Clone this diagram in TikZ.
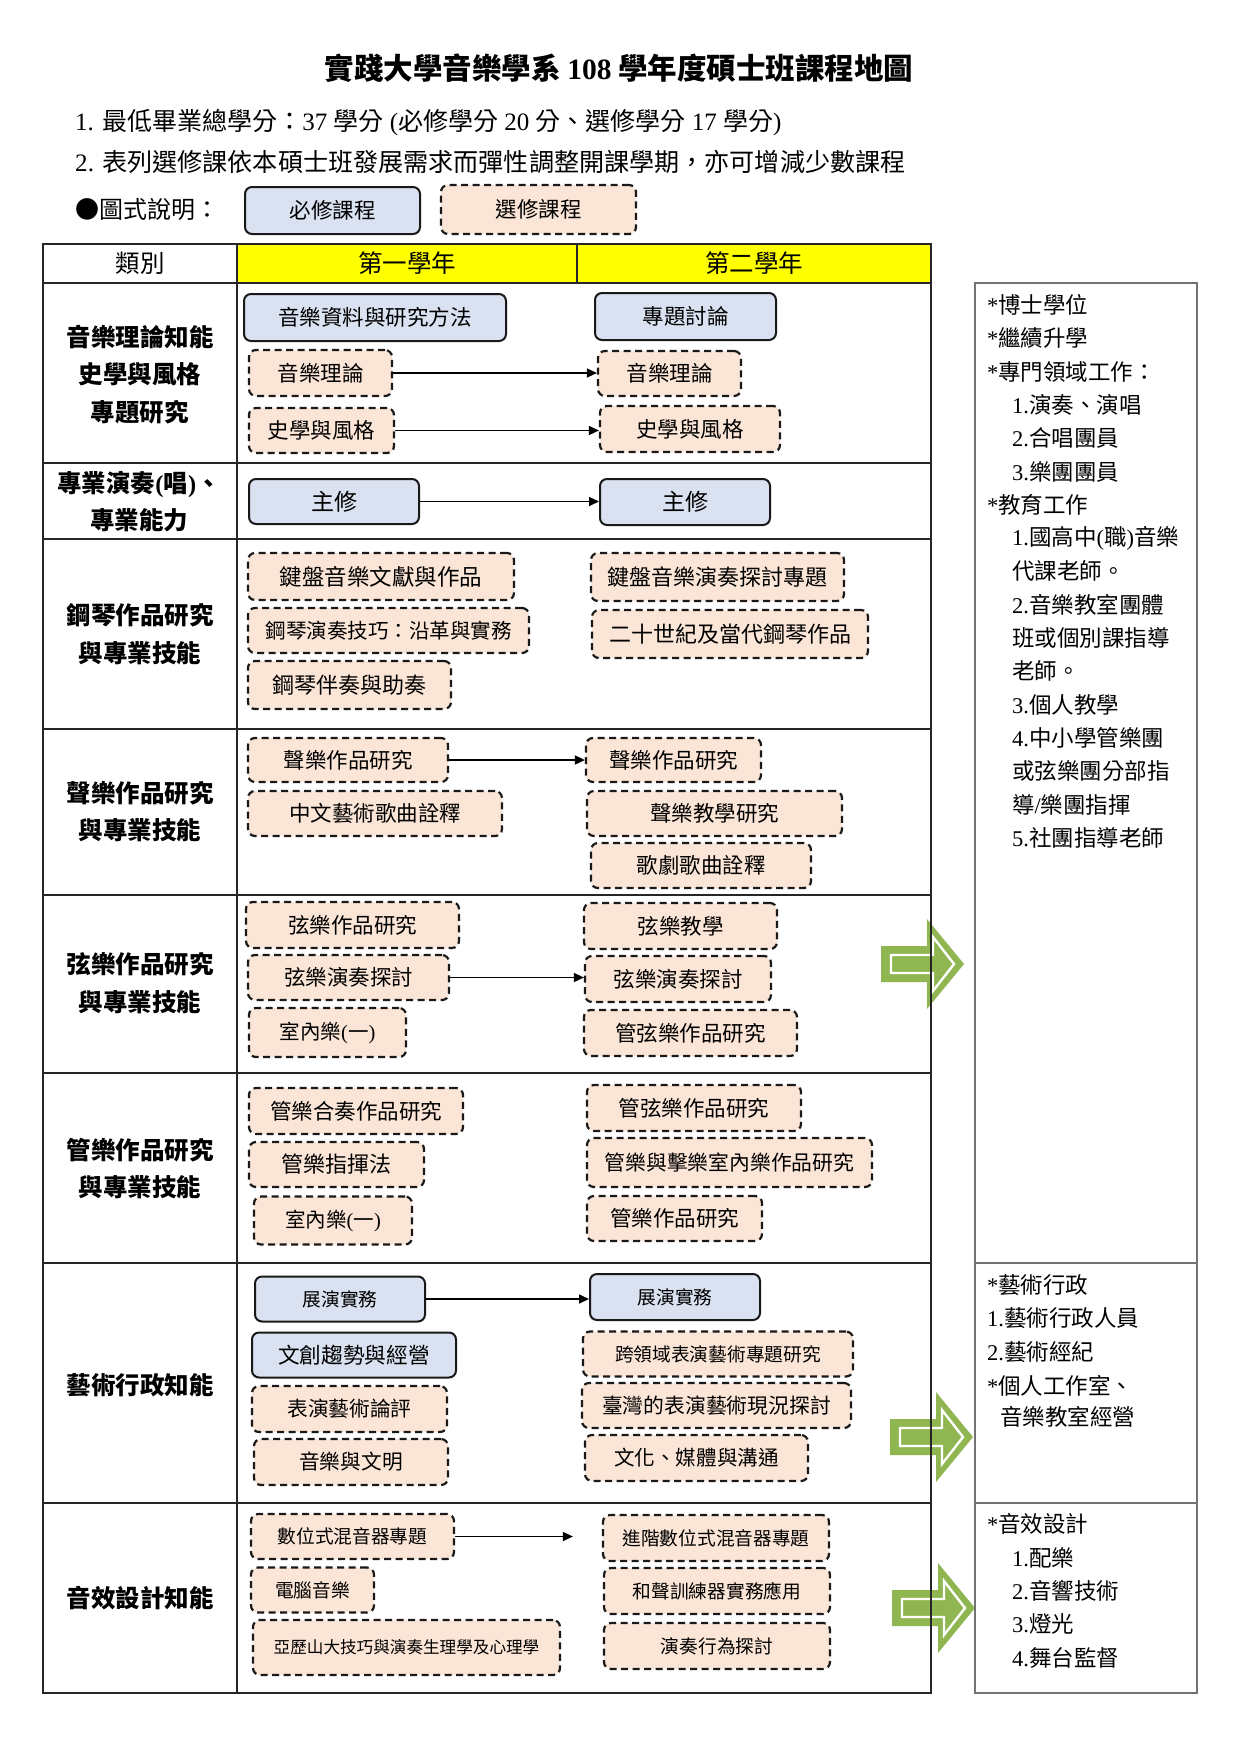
\documentclass[tikz,border=0pt]{standalone}
\usepackage{fontspec}
\setmainfont{Noto Sans CJK TC}
\newfontfamily\latfont{Liberation Serif}
\newcommand\latx[1]{{\latfont #1}}
\newcommand\fsz[1]{\fontsize{#1}{#1}\selectfont}
\usetikzlibrary{arrows.meta}
\definecolor{reqfill}{HTML}{DAE1F0}
\definecolor{optfill}{HTML}{FBE5D6}
\definecolor{hdr}{HTML}{FFFF00}
\definecolor{grn}{RGB}{143,182,80}
\newcommand\grnarrow[2]{%
  \fill[grn] (#1,#2-18) -- (#1+46,#2-18) -- (#1+46,#2-45) -- (#1+83,#2) -- (#1+46,#2+45) -- (#1+46,#2+18) -- (#1,#2+18) -- cycle;
  \draw[white, line width=2.4pt] (#1+10,#2-9) -- (#1+52,#2-9) -- (#1+52,#2-27) -- (#1+73,#2) -- (#1+52,#2+27) -- (#1+52,#2+9) -- (#1+10,#2+9) -- cycle;}
\begin{document}
\begin{tikzpicture}[x=1pt,y=-1pt,
  req/.style={draw=black!90, line width=2pt, rounded corners=7pt, fill=reqfill, inner sep=0pt, font=\fsz{21.5}},
  opt/.style={draw=black!90, line width=2.2pt, dash pattern=on 7pt off 4.5pt, rounded corners=7pt, fill=optfill, inner sep=0pt, font=\fsz{21.5}},
  cat/.style={align=center, inner sep=0pt, font=\fontsize{24.5}{37.5}\selectfont\bfseries},
  hd/.style={inner sep=0pt, font=\fsz{24.5}},
  rt/.style={anchor=west, inner sep=0pt, font=\fsz{22.5}},
  conn/.style={-{Triangle[length=10pt,width=9pt]}, line width=1.6pt, black},
  tline/.style={line width=1.3pt, black!85},
  rline/.style={line width=1.5pt, black!55}]
\useasboundingbox[fill=white] (0,0) rectangle (1240,1754);

% title and notes
\node[inner sep=0pt, font=\fsz{29.5}\bfseries] (title) at (619,68) {實踐大學音樂學系 \latx{108} 學年度碩士班課程地圖};
\node[anchor=west, inner sep=0pt, font=\fsz{25}] (note1) at (75,123) {\latx{1. }最低畢業總學分：\latx{37 }學分\latx{ (}必修學分\latx{ 20 }分、選修學分\latx{ 17 }學分\latx{)}};
\node[anchor=west, inner sep=0pt, font=\fsz{25.1}] (note2) at (75,162) {\latx{2. }表列選修課依本碩士班發展需求而彈性調整開課學期，亦可增減少數課程};
\node[anchor=west, inner sep=0pt, font=\fsz{24}] (legend) at (75,210) {●圖式說明：};
\node[req, minimum width=175pt, minimum height=47pt] (LG1) at (332.5,210.5) {必修課程};
\node[opt, minimum width=195pt, minimum height=49pt] (LG2) at (538.5,209.5) {選修課程};

% green arrows (under the table lines)
\grnarrow{881}{964}
\grnarrow{890}{1437}
\grnarrow{892}{1608}

% table
\fill[hdr] (237,244) rectangle (931,283);
\draw[tline] (43,244) rectangle (931,1693);
\foreach \yy in {283,463,539,729,895,1073,1263,1503} \draw[tline] (43,\yy) -- (931,\yy);
\draw[tline] (237,244) -- (237,1693);
\draw[tline] (577,244) -- (577,283);
\draw[rline] (975,283) rectangle (1197,1693);
\draw[rline] (975,1263) -- (1197,1263);
\draw[rline] (975,1503) -- (1197,1503);

\node[hd] (h0) at (140,263.5) {類別};
\node[hd] (h1) at (407,263.5) {第一學年};
\node[hd] (h2) at (754,263.5) {第二學年};

% categories
\node[cat] (c1) at (140,374.5) {音樂理論知能\\史學與風格\\專題研究};
\node[cat] (c2) at (139,501.5) {專業演奏\latx{(}唱\latx{)}、\\專業能力};
\node[cat] (c3) at (140,634) {鋼琴作品研究\\與專業技能};
\node[cat] (c4) at (140,811.5) {聲樂作品研究\\與專業技能};
\node[cat] (c5) at (140,983) {弦樂作品研究\\與專業技能};
\node[cat] (c6) at (140,1168.5) {管樂作品研究\\與專業技能};
\node[cat] (c7) at (140,1385) {藝術行政知能};
\node[cat] (c8) at (140,1598) {音效設計知能};

% row 1
\node[req, minimum width=262pt, minimum height=47pt] (A1) at (375,317.5) {音樂資料與研究方法};
\node[opt, minimum width=143pt, minimum height=46pt] (A2) at (320.5,373) {音樂理論};
\node[opt, minimum width=145pt, minimum height=45pt] (A3) at (321.5,430.5) {史學與風格};
\node[req, minimum width=181pt, minimum height=47pt] (B1) at (685.5,316.5) {專題討論};
\node[opt, minimum width=143pt, minimum height=45pt] (B2) at (669.5,373.5) {音樂理論};
\node[opt, minimum width=180pt, minimum height=46pt] (B3) at (690,429) {史學與風格};
% row 2
\node[req, minimum width=170pt, minimum height=45pt, font=\fsz{23}] (C1) at (334,501.5) {主修};
\node[req, minimum width=170pt, minimum height=46pt, font=\fsz{23}] (D1) at (685,502) {主修};
% row 3
\node[opt, minimum width=266pt, minimum height=47pt, font=\fsz{22.5}] (E1) at (381,576.5) {鍵盤音樂文獻與作品};
\node[opt, minimum width=281pt, minimum height=45pt, font=\fsz{20.5}] (E2) at (388.5,630.5) {鋼琴演奏技巧：沿革與實務};
\node[opt, minimum width=203pt, minimum height=48pt, font=\fsz{22}] (E3) at (349.5,685) {鋼琴伴奏與助奏};
\node[opt, minimum width=253pt, minimum height=48pt, font=\fsz{22}] (F1) at (717.5,577) {鍵盤音樂演奏探討專題};
\node[opt, minimum width=276pt, minimum height=48pt, font=\fsz{22}] (F2) at (730,634) {二十世紀及當代鋼琴作品};
% row 4
\node[opt, minimum width=200pt, minimum height=44pt] (G1) at (348,760) {聲樂作品研究};
\node[opt, minimum width=254pt, minimum height=45pt] (G2) at (375,813.5) {中文藝術歌曲詮釋};
\node[opt, minimum width=175pt, minimum height=44pt] (H1) at (673.5,760) {聲樂作品研究};
\node[opt, minimum width=255pt, minimum height=45pt] (H2) at (714.5,813.5) {聲樂教學研究};
\node[opt, minimum width=220pt, minimum height=45pt] (H3) at (701,865.5) {歌劇歌曲詮釋};
% row 5
\node[opt, minimum width=213pt, minimum height=46pt] (I1) at (352.5,925) {弦樂作品研究};
\node[opt, minimum width=201pt, minimum height=45pt] (I2) at (348.5,977.5) {弦樂演奏探討};
\node[opt, minimum width=157pt, minimum height=49pt, font=\fsz{20.5}] (I3) at (327.5,1032.5) {室內樂\latx{(}一\latx{)}};
\node[opt, minimum width=193pt, minimum height=46pt] (J1) at (680.5,926) {弦樂教學};
\node[opt, minimum width=186pt, minimum height=46pt] (J2) at (678,979) {弦樂演奏探討};
\node[opt, minimum width=213pt, minimum height=46pt] (J3) at (690.5,1033) {管弦樂作品研究};
% row 6
\node[opt, minimum width=214pt, minimum height=46pt] (K1) at (356,1111) {管樂合奏作品研究};
\node[opt, minimum width=175pt, minimum height=45pt, font=\fsz{22}] (K2) at (336.5,1164.5) {管樂指揮法};
\node[opt, minimum width=158pt, minimum height=48pt, font=\fsz{20.5}] (K3) at (333,1220.5) {室內樂\latx{(}一\latx{)}};
\node[opt, minimum width=214pt, minimum height=46pt] (L1) at (694,1108) {管弦樂作品研究};
\node[opt, minimum width=285pt, minimum height=49pt, font=\fsz{20.8}] (L2) at (729.5,1162.5) {管樂與擊樂室內樂作品研究};
\node[opt, minimum width=175pt, minimum height=45pt] (L3) at (674.5,1218.5) {管樂作品研究};
% row 7
\node[req, minimum width=170pt, minimum height=45pt, font=\fsz{18.7}] (M1) at (340,1299) {展演實務};
\node[req, minimum width=204pt, minimum height=45pt, font=\fsz{21.7}] (M2) at (354,1355) {文創趨勢與經營};
\node[opt, minimum width=195pt, minimum height=46pt, font=\fsz{20.7}] (M3) at (349.5,1409) {表演藝術論評};
\node[opt, minimum width=194pt, minimum height=46pt, font=\fsz{20.7}] (M4) at (351,1462) {音樂與文明};
\node[req, minimum width=170pt, minimum height=46pt, font=\fsz{18.7}] (N1) at (675,1297) {展演實務};
\node[opt, minimum width=270pt, minimum height=45pt, font=\fsz{18.7}] (N2) at (718,1354) {跨領域表演藝術專題研究};
\node[opt, minimum width=269pt, minimum height=45pt, font=\fsz{20.8}] (N3) at (716.5,1405.5) {臺灣的表演藝術現況探討};
\node[opt, minimum width=223pt, minimum height=46pt, font=\fsz{20.6}] (N4) at (696.5,1458) {文化、媒體與溝通};
% row 8
\node[opt, minimum width=203pt, minimum height=45pt, font=\fsz{18.7}] (O1) at (352.5,1536.5) {數位式混音器專題};
\node[opt, minimum width=123pt, minimum height=45pt, font=\fsz{18.7}] (O2) at (312.5,1590) {電腦音樂};
\node[opt, minimum width=307pt, minimum height=55pt, font=\fsz{16.6}] (O3) at (406.5,1647.5) {亞歷山大技巧與演奏生理學及心理學};
\node[opt, minimum width=226pt, minimum height=46pt, font=\fsz{18.7}] (P1) at (716,1538) {進階數位式混音器專題};
\node[opt, minimum width=226pt, minimum height=46pt, font=\fsz{18.7}] (P2) at (717,1591) {和聲訓練器實務應用};
\node[opt, minimum width=226pt, minimum height=46pt, font=\fsz{18.7}] (P3) at (717,1646) {演奏行為探討};

% connectors
\draw[conn] (A2.east) -- (A2.east -| B2.west);
\draw[conn] (A3.east) -- (A3.east -| B3.west);
\draw[conn] (C1.east) -- (C1.east -| D1.west);
\draw[conn] (G1.east) -- (G1.east -| H1.west);
\draw[conn] (I2.east) -- (I2.east -| J2.west);
\draw[conn] (M1.east) -- (M1.east -| N1.west);
\draw[conn, shorten >=29pt] (O1.east) -- (O1.east -| P1.west);

% right column texts
\node[rt] (r1) at (987,305) {\latx{*}博士學位};
\node[rt] (r2) at (987,338) {\latx{*}繼續升學};
\node[rt] (r3) at (987,372) {\latx{*}專門領域工作：};
\node[rt] (r4) at (1012,405) {\latx{1.}演奏、演唱};
\node[rt] (r5) at (1012,438) {\latx{2.}合唱團員};
\node[rt] (r6) at (1012,472) {\latx{3.}樂團團員};
\node[rt] (r7) at (987,505) {\latx{*}教育工作};
\node[rt] (r8) at (1012,538) {\latx{1.}國高中\latx{(}職\latx{)}音樂};
\node[rt] (r9) at (1012,571) {代課老師。};
\node[rt] (r10) at (1012,605) {\latx{2.}音樂教室團體};
\node[rt] (r11) at (1012,638) {班或個別課指導};
\node[rt] (r12) at (1012,671) {老師。};
\node[rt] (r13) at (1012,705) {\latx{3.}個人教學};
\node[rt] (r14) at (1012,738) {\latx{4.}中小學管樂團};
\node[rt] (r15) at (1012,771) {或弦樂團分部指};
\node[rt] (r16) at (1012,805) {導\latx{/}樂團指揮};
\node[rt] (r17) at (1012,838) {\latx{5.}社團指導老師};

\node[rt] (s1) at (987,1285) {\latx{*}藝術行政};
\node[rt] (s2) at (987,1318) {\latx{1.}藝術行政人員};
\node[rt] (s3) at (987,1352) {\latx{2.}藝術經紀};
\node[rt] (s4) at (987,1385.5) {\latx{*}個人工作室、};
\node[rt] (s5) at (1000,1417) {音樂教室經營};

\node[rt] (t1) at (987,1524) {\latx{*}音效設計};
\node[rt] (t2) at (1012,1557.5) {\latx{1.}配樂};
\node[rt] (t3) at (1012,1590.5) {\latx{2.}音響技術};
\node[rt] (t4) at (1012,1624) {\latx{3.}燈光};
\node[rt] (t5) at (1012,1657.5) {\latx{4.}舞台監督};
\end{tikzpicture}
\end{document}
